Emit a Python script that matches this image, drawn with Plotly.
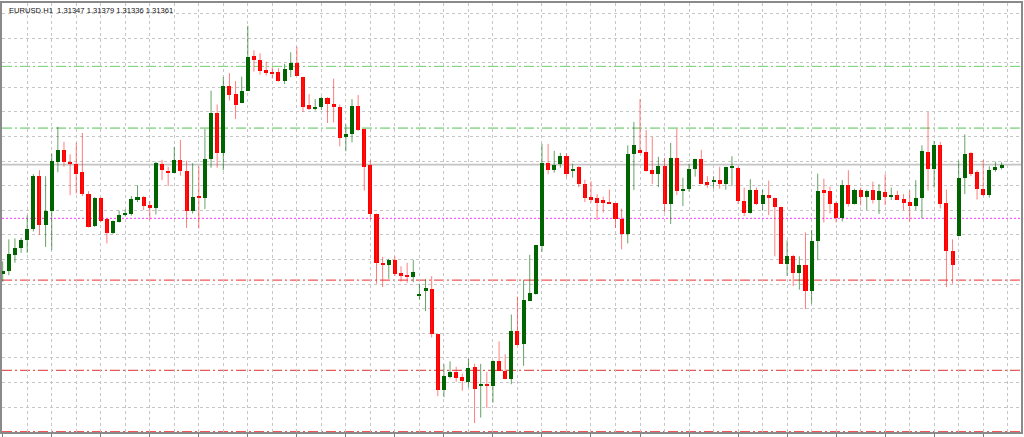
import plotly.graph_objects as go

# ---- data (EURUSD H1 candles) ----
opens = [1.30704,1.30722,1.30821,1.30860,1.30911,1.30974,1.31298,1.30998,1.31085,1.31382,
         1.31451,1.31382,1.31367,1.31319,1.31190,1.30995,1.31166,1.31037,1.30950,1.31019,
         1.31064,1.31070,1.31154,1.31169,1.31121,1.31106,1.31370,1.31328,1.31316,1.31391,
         1.31328,1.31085,1.31172,1.31166,1.31397,1.31676,1.31436,1.31838,1.31790,1.31736,
         1.31808,1.32021,1.31994,1.31934,1.31925,1.31922,1.31871,1.31937,1.31976,1.31895,
         1.31724,1.31700,1.31712,1.31766,1.31733,1.31712,1.31532,1.31547,1.31721,1.31580,
         1.31361,1.31067,1.30773,1.30758,1.30788,1.30710,1.30701,1.30686,1.30575,1.30605,
         1.30617,1.30341,1.30008,1.30086,1.30116,1.30086,1.30056,1.30143,1.30032,1.30038,
         1.30032,1.30179,1.30122,1.30071,1.30362,1.30281,1.30542,1.30584,1.30875,1.31373,
         1.31334,1.31367,1.31415,1.31328,1.31349,1.31250,1.31169,1.31163,1.31154,1.31139,
         1.31133,1.31040,1.30947,1.31427,1.31454,1.31442,1.31331,1.31310,1.31355,1.31127,
         1.31403,1.31208,1.31220,1.31340,1.31397,1.31262,1.31262,1.31271,1.31250,1.31346,
         1.31346,1.31148,1.31076,1.31214,1.31127,1.31184,1.31166,1.31112,1.30767,1.30815,
         1.30710,1.30761,1.30602,1.30905,1.31211,1.31205,1.31136,1.31046,1.31244,1.31130,
         1.31211,1.31169,1.31211,1.31151,1.31202,1.31172,1.31181,1.31157,1.31139,1.31115,
         1.31166,1.31442,1.31340,1.31484,1.31136,1.30842,1.30935,1.31286,1.31436,1.31322,
         1.31220,1.31181,1.31331,1.31347]
highs = [1.30782,1.30914,1.30920,1.30923,1.31058,1.31307,1.31331,1.31295,1.31430,1.31592,
         1.31502,1.31427,1.31496,1.31556,1.31205,1.31169,1.31169,1.31043,1.31028,1.31088,
         1.31094,1.31175,1.31241,1.31175,1.31145,1.31382,1.31394,1.31352,1.31472,1.31514,
         1.31388,1.31373,1.31355,1.31580,1.31811,1.31727,1.31892,1.31916,1.31868,1.31895,
         1.32201,1.32054,1.32036,1.31985,1.31952,1.31946,1.31973,1.32042,1.32075,1.31895,
         1.31790,1.31760,1.31775,1.31772,1.31883,1.31727,1.31607,1.31760,1.31784,1.31580,
         1.31391,1.31070,1.30809,1.30797,1.30812,1.30752,1.30773,1.30791,1.30647,1.30674,
         1.30692,1.30347,1.30161,1.30179,1.30146,1.30104,1.30194,1.30164,1.30164,1.30116,
         1.30185,1.30299,1.30221,1.30461,1.30569,1.30671,1.30821,1.30881,1.31490,1.31490,
         1.31448,1.31436,1.31433,1.31370,1.31355,1.31274,1.31265,1.31187,1.31172,1.31214,
         1.31133,1.31100,1.31481,1.31622,1.31760,1.31574,1.31532,1.31412,1.31406,1.31496,
         1.31580,1.31286,1.31370,1.31400,1.31454,1.31295,1.31295,1.31352,1.31352,1.31415,
         1.31352,1.31226,1.31277,1.31226,1.31214,1.31268,1.31166,1.31112,1.30908,1.30821,
         1.30812,1.30956,1.30971,1.31310,1.31280,1.31232,1.31142,1.31271,1.31331,1.31220,
         1.31226,1.31214,1.31262,1.31247,1.31307,1.31226,1.31208,1.31187,1.31208,1.31271,
         1.31481,1.31682,1.31508,1.31502,1.31214,1.30914,1.31388,1.31547,1.31442,1.31331,
         1.31394,1.31355,1.31382,1.31379]
lows = [1.30659,1.30698,1.30773,1.30833,1.30833,1.30962,1.30941,1.30869,1.30851,1.31319,
        1.31352,1.31181,1.31190,1.31175,1.30986,1.30989,1.31016,1.30890,1.30947,1.31016,
        1.31052,1.31058,1.31139,1.31091,1.31031,1.31064,1.31271,1.31235,1.31316,1.31298,
        1.30983,1.31070,1.30980,1.31097,1.31346,1.31346,1.31331,1.31751,1.31640,1.31736,
        1.31808,1.31925,1.31907,1.31901,1.31883,1.31865,1.31850,1.31892,1.31901,1.31682,
        1.31694,1.31691,1.31694,1.31616,1.31619,1.31475,1.31445,1.31499,1.31568,1.31208,
        1.31034,1.30647,1.30626,1.30677,1.30692,1.30659,1.30653,1.30656,1.30551,1.30482,
        1.30323,1.29969,1.29963,1.30077,1.30056,1.30002,1.30023,1.29807,1.29840,1.29897,
        1.29930,1.30119,1.30071,1.30041,1.30275,1.30152,1.30542,1.30581,1.30839,1.31307,
        1.31316,1.31346,1.31289,1.31286,1.31229,1.31139,1.31136,1.31031,1.31076,1.31127,
        1.30983,1.30854,1.30890,1.31211,1.31436,1.31322,1.31247,1.31229,1.31076,1.31007,
        1.31181,1.31115,1.31202,1.31292,1.31247,1.31226,1.31220,1.31220,1.31214,1.31235,
        1.31127,1.31055,1.31070,1.31121,1.31088,1.31061,1.30812,1.30767,1.30695,1.30632,
        1.30611,1.30494,1.30527,1.30788,1.31016,1.31070,1.31016,1.31022,1.31112,1.31124,
        1.31118,1.31091,1.31130,1.31067,1.31121,1.31151,1.31151,1.31091,1.31022,1.31091,
        1.31040,1.31208,1.31226,1.31100,1.30626,1.30647,1.30932,1.31187,1.31295,1.31154,
        1.31175,1.31166,1.31322,1.31336]
closes = [1.30725,1.30827,1.30860,1.30911,1.30974,1.31295,1.30998,1.31088,1.31385,1.31451,
          1.31379,1.31373,1.31310,1.31190,1.30989,1.31166,1.31025,1.30953,1.31025,1.31064,
          1.31073,1.31157,1.31169,1.31115,1.31106,1.31376,1.31331,1.31316,1.31391,1.31328,
          1.31085,1.31172,1.31166,1.31400,1.31676,1.31436,1.31838,1.31787,1.31727,1.31808,
          1.32015,1.31997,1.31928,1.31919,1.31916,1.31871,1.31940,1.31976,1.31901,1.31715,
          1.31700,1.31715,1.31766,1.31733,1.31712,1.31526,1.31550,1.31721,1.31571,1.31352,
          1.31067,1.30773,1.30758,1.30788,1.30704,1.30692,1.30689,1.30716,1.30581,1.30620,
          1.30341,1.30008,1.30089,1.30116,1.30077,1.30059,1.30140,1.30014,1.30041,1.30032,
          1.30179,1.30119,1.30071,1.30362,1.30278,1.30548,1.30590,1.30881,1.31373,1.31334,
          1.31364,1.31415,1.31310,1.31340,1.31250,1.31166,1.31151,1.31136,1.31136,1.31130,
          1.31040,1.30947,1.31427,1.31481,1.31436,1.31325,1.31307,1.31355,1.31127,1.31406,
          1.31208,1.31220,1.31340,1.31397,1.31250,1.31241,1.31268,1.31250,1.31352,1.31355,
          1.31145,1.31076,1.31214,1.31127,1.31184,1.31166,1.31112,1.30767,1.30815,1.30710,
          1.30761,1.30602,1.30905,1.31208,1.31196,1.31130,1.31046,1.31244,1.31130,1.31211,
          1.31169,1.31208,1.31151,1.31205,1.31172,1.31184,1.31154,1.31136,1.31115,1.31166,
          1.31445,1.31340,1.31484,1.31130,1.30842,1.30761,1.31286,1.31430,1.31310,1.31220,
          1.31181,1.31334,1.31352,1.31361]

# horizontal price levels drawn on the chart
level_prices = [1.31957, 1.31585, 1.31365, 1.31041, 1.30669, 1.30125, 1.29755]
level_colors = ["#6fcf6f", "#9edc9e", "#c4c4c4", "#ff33ff", "#f25555", "#e25a5a", "#f25555"]
level_dashes = ["10px,3px,2px,3px", "10px,3px,2px,3px", "solid", "2px,2px",
                "10px,3px,2px,3px", "10px,3px,2px,3px", "10px,3px,2px,3px"]
level_widths = [1, 1.6, 1.6, 1, 1.2, 1.2, 1.2]

title_text = "EURUSD.H1\u00a0\u00a01.31347 1.31379 1.31336 1.31361"

# ---- chart ----
idx = list(range(len(opens)))
up_x, up_y, dn_x, dn_y = [], [], [], []
for i, o, h, l, c in zip(idx, opens, highs, lows, closes):
    if c >= o:
        up_x += [i, i, None]; up_y += [l, h, None]
    else:
        dn_x += [i, i, None]; dn_y += [l, h, None]

fig = go.Figure()
fig.add_trace(go.Scatter(x=dn_x, y=dn_y, mode="lines",
                         line=dict(color="rgba(255,40,40,0.6)", width=1),
                         hoverinfo="skip", showlegend=False))
fig.add_trace(go.Scatter(x=up_x, y=up_y, mode="lines",
                         line=dict(color="rgba(0,100,0,0.6)", width=1),
                         hoverinfo="skip", showlegend=False))

base = [min(o, c) for o, c in zip(opens, closes)]
height = [abs(c - o) for o, c in zip(opens, closes)]
colors = ["#006400" if c >= o else "#ff0000" for o, c in zip(opens, closes)]
fig.add_trace(go.Bar(x=idx, y=height, base=base, width=0.66,
                     marker=dict(color=colors, line=dict(width=0)),
                     hoverinfo="skip", showlegend=False))

for p, col, d, w in zip(level_prices, level_colors, level_dashes, level_widths):
    fig.add_shape(type="line", xref="paper", x0=0, x1=1, yref="y", y0=p, y1=p,
                  line=dict(color=col, width=w, dash=d), layer="below")

fig.add_annotation(text=title_text, xref="paper", yref="paper", x=0.0045, y=0.983,
                   xanchor="left", yanchor="middle", showarrow=False,
                   font=dict(family="Liberation Sans, Arial", size=7.6, color="#111111"))

grid = dict(showgrid=True, gridcolor="#c6c6c6", gridwidth=1, griddash="3px,3px")
fig.update_layout(
    width=1024, height=437,
    margin=dict(l=2, r=1, t=2, b=4),
    paper_bgcolor="white", plot_bgcolor="white",
    barmode="overlay", bargap=0, hovermode=False,
    xaxis=dict(range=[-0.114, 166.17], tick0=0, dtick=8, ticks="outside", ticklen=4,
               tickcolor="#777777", tickwidth=1, showticklabels=False, zeroline=False,
               showline=True, mirror=True, linecolor="#8a8a8a", linewidth=2,
               minor=dict(dtick=4, showgrid=True, gridcolor="#c6c6c6", griddash="3px,3px", ticks=""),
               **grid),
    yaxis=dict(range=[1.29753, 1.32339], tick0=1.322748, dtick=0.001482,
               showticklabels=False, zeroline=False, ticks="",
               showline=True, mirror=True, linecolor="#8a8a8a", linewidth=2,
               **grid),
)

fig.write_html("out.html", config={"displayModeBar": False},
               post_script="document.body.style.margin='0';document.body.style.overflow='hidden';")
